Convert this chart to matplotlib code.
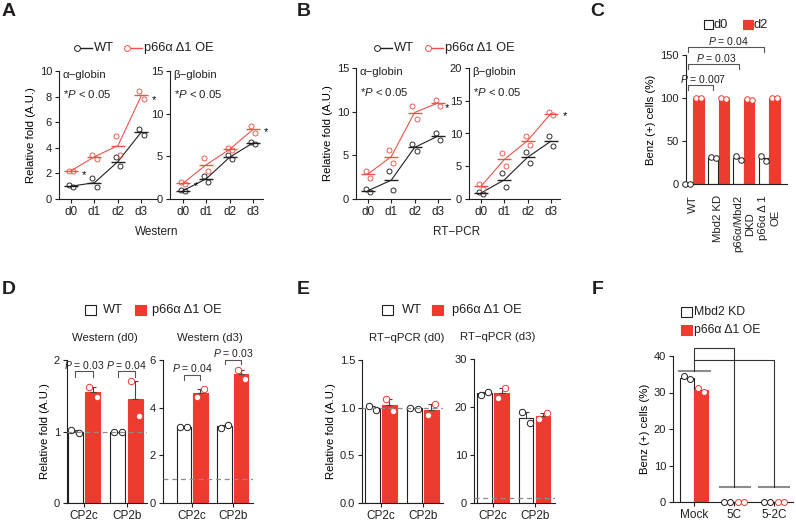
import matplotlib
matplotlib.use('Agg')
import matplotlib.pyplot as plt
import numpy as np
from matplotlib.lines import Line2D
from matplotlib.patches import Rectangle

plt.rcParams['font.family'] = ['Liberation Sans', 'DejaVu Sans']
plt.rcParams['mathtext.fontset'] = 'custom'
plt.rcParams['mathtext.rm'] = 'Liberation Sans'
plt.rcParams['mathtext.it'] = 'Liberation Sans:italic'
plt.rcParams['axes.linewidth'] = 0.8

# ---------------- data ----------------
days = ['d0', 'd1', 'd2', 'd3']
A_alpha_wt = [[1.1, 0.9], [1.65, 0.9], [3.25, 2.6], [5.5, 5.0]]
A_alpha_oe = [[2.2, 2.2], [3.45, 3.15], [4.9, 3.45], [8.4, 7.8]]
A_beta_wt = [[1.0, 0.95], [2.7, 2.05], [5.15, 4.65], [6.65, 6.5]]
A_beta_oe = [[1.95, 1.75], [4.75, 3.3], [5.95, 5.7], [8.6, 7.7]]
B_alpha_wt = [[1.15, 0.75], [3.25, 1.05], [6.35, 5.45], [7.6, 6.8]]
B_alpha_oe = [[3.25, 2.45], [5.6, 4.1], [10.6, 9.2], [11.3, 10.7]]
B_beta_wt = [[1.1, 0.75], [4.0, 1.85], [7.2, 5.55], [9.6, 8.05]]
B_beta_oe = [[2.3, 1.6], [7.0, 5.1], [9.55, 8.3], [13.3, 12.8]]

C_groups = ['WT', 'Mbd2 KD', 'p66α/Mbd2\nDKD', 'p66α Δ 1\nOE']
C_d0 = [[0, 0], [31, 30], [32, 28], [33, 27]]
C_d2 = [[100, 100], [100, 99], [99, 98], [100, 100]]
C_pvals = ['= 0.007', '= 0.03', '= 0.04']

DE_genes = ['CP2c', 'CP2b']
D_d0_wt = [[1.02, 0.98], [1.0, 1.0]]
D_d0_oe = [[1.62, 1.48], [1.70, 1.22]]
D_d3_wt = [[3.2, 3.2], [3.15, 3.28]]
D_d3_oe = [[4.45, 4.78], [5.58, 5.22]]
D_d0_p = ['= 0.03', '= 0.04']
D_d3_p = ['= 0.04', '= 0.03']
E_d0_wt = [[1.02, 0.98], [1.0, 0.99]]
E_d0_oe = [[1.09, 0.97], [0.92, 1.04]]
E_d3_wt = [[22.6, 23.2], [19.0, 16.6]]
E_d3_oe = [[21.8, 23.9], [17.4, 18.7]]

F_groups = ['Mock', '5C', '5-2C']
F_kd = [[34.5, 33.7], [0, 0], [0, 0]]
F_oe = [[31.3, 30.2], [0, 0], [0, 0]]

BLACK = '#231F20'
RED = '#EE3B2F'
LRED = '#F0524A'
GRAY = '#8C8C8C'

W, H = 796, 521
fig = plt.figure(figsize=(W / 100, H / 100), dpi=100)


def add_ax(l, t, r, b):
    ax = fig.add_axes([l / W, 1 - b / H, (r - l) / W, (b - t) / H])
    ax.spines[['top', 'right']].set_visible(False)
    for s in ['left', 'bottom']:
        ax.spines[s].set_color(BLACK)
    ax.tick_params(length=3, width=0.8, labelsize=8, pad=2, colors=BLACK)
    ax.patch.set_alpha(0)
    return ax


def ftext(x, y, s, **kw):
    kw.setdefault('color', BLACK)
    fig.text(x / W, 1 - y / H, s, **kw)


def fline(xs, ys, **kw):
    fig.add_artist(Line2D([x / W for x in xs], [1 - y / H for y in ys],
                          transform=fig.transFigure, **kw))


def frect(x, y, w, h, fc, ec):
    fig.add_artist(Rectangle((x / W, 1 - (y + h) / H), w / W, h / H,
                             transform=fig.transFigure, facecolor=fc,
                             edgecolor=ec, lw=0.8))


def line_panel(ax, wt, oe, ylim, yticks, xlim, title):
    x = np.arange(4)
    for data, col in [(wt, BLACK), (oe, LRED)]:
        arr = np.array(data)
        m = arr.mean(axis=1)
        ax.plot(x, m, color=col, lw=0.8, zorder=2)
        ax.plot(x, m, ls='none', marker='_', ms=10, mew=1.0, color=col, zorder=3)
        for j in range(arr.shape[1]):
            ax.plot(x + (j - 0.5) * 0.18, arr[:, j], ls='none', marker='o',
                    ms=3.6, mfc='none', mec=col, mew=0.65, zorder=4, clip_on=False)
    ax.set_xlim(*xlim)
    ax.set_ylim(*ylim)
    ax.set_yticks(yticks)
    ax.set_xticks(x)
    ax.set_xticklabels(days, fontsize=8.5)
    ax.text(0.04, 0.97, title, transform=ax.transAxes, fontsize=8.2, va='center', color=BLACK)
    ax.text(0.04, 0.82, r'*$P$ < 0.05', transform=ax.transAxes, fontsize=8.2, va='center', color=BLACK)


# ---------------- Panel A ----------------
axAa = add_ax(59, 71, 157, 199)
line_panel(axAa, A_alpha_wt, A_alpha_oe, (0, 10), [0, 2, 4, 6, 8, 10], (-0.51, 3.66), 'α−globin')
axAa.text(0.45, 1.9, '*', fontsize=8, va='center')
axAa.text(3.42, 7.7, '*', fontsize=8, va='center')
axAa.set_ylabel('Relative fold (A.U.)', fontsize=8.2, labelpad=3)
axAb = add_ax(170, 71, 263, 199)
line_panel(axAb, A_beta_wt, A_beta_oe, (0, 15), [0, 5, 10, 15], (-0.56, 3.43), 'β−globin')
axAb.text(0.47, 1.5, '*', fontsize=8, va='center')
axAb.text(3.48, 7.9, '*', fontsize=8, va='center')
ftext(157, 232, 'Western', fontsize=8.5, ha='center', va='center')

# ---------------- Panel B ----------------
axBa = add_ax(356, 68, 450, 199)
line_panel(axBa, B_alpha_wt, B_alpha_oe, (0, 15), [0, 5, 10, 15], (-0.51, 3.52), 'α−globin')
axBa.text(3.3, 10.4, '*', fontsize=8, va='center')
axBa.set_ylabel('Relative fold (A.U.)', fontsize=8.2, labelpad=3)
axBb = add_ax(469, 68, 560, 199)
line_panel(axBb, B_beta_wt, B_beta_oe, (0, 20), [0, 5, 10, 15, 20], (-0.52, 3.39), 'β−globin')
axBb.text(3.5, 12.7, '*', fontsize=8, va='center')
ftext(457, 232, 'RT−PCR', fontsize=8.5, ha='center', va='center')

# line legends A, B
for cx, col, txt in [(77, BLACK, 'WT'), (127, LRED, 'p66α Δ1 OE'),
                     (377, BLACK, 'WT'), (428, LRED, 'p66α Δ1 OE')]:
    fline([cx + 2, cx + 15], [48, 48], color=col, lw=1)
    fig.add_artist(Line2D([cx / W], [1 - 48 / H], marker='o', ms=4.2, mfc='white',
                          mec=col, mew=0.7, transform=fig.transFigure))
    ftext(cx + 17, 48, txt, fontsize=9.3, va='center')

# ---------------- Panel C ----------------
axC = add_ax(686, 55, 787, 184)
xc = np.arange(4)
offC, bwC = 0.209, 0.41
for data, fc, ec, sgn in [(C_d0, 'white', BLACK, -1), (C_d2, RED, RED, 1)]:
    arr = np.array(data, dtype=float)
    m = arr.mean(1)
    xs = xc + sgn * offC
    axC.bar(xs, m, width=bwC, color=fc, edgecolor=ec, lw=0.8, zorder=2)
    for j in range(2):
        axC.plot(xs + (j - 0.5) * 0.2, arr[:, j], ls='none', marker='o', ms=4,
                 mfc='white', mec=(BLACK if sgn < 0 else RED), mew=0.7, zorder=4, clip_on=False)
axC.set_xlim(-0.28, 3.7)
axC.set_ylim(0, 150)
axC.set_yticks([0, 50, 100, 150])
axC.set_xticks(xc)
axC.set_xticklabels(C_groups, rotation=90, fontsize=8.2, va='top', ha='center', multialignment='center')
axC.tick_params(axis='x', length=0, pad=8)
axC.set_ylabel('Benz (+) cells (%)', fontsize=8.2, labelpad=3)
for k, (yb, yl) in enumerate([(115, 122), (139.5, 146.5), (159, 166)]):
    x1, x2 = 0 - offC, (k + 1) - offC
    axC.plot([x1, x1, x2, x2], [yb - 6, yb, yb, yb - 6], color='#555555', lw=0.8, clip_on=False)
    axC.text((x1 + x2) / 2 + 0.1, yl, r'$P$ ' + C_pvals[k], fontsize=7.5, ha='center', va='center', color=BLACK)
frect(704, 20, 9, 9, 'white', BLACK)
ftext(714, 24.5, 'd0', fontsize=9.3, va='center')
frect(743, 20, 10, 9, RED, RED)
ftext(754, 24.5, 'd2', fontsize=9.3, va='center')


# ---------------- Panels D, E ----------------
def bar_panel(ax, wt, oe, ylim, yticks, xlim, ytl=None):
    x = np.arange(2)
    off, bw = 0.205, 0.35
    for data, fc, ec, sgn in [(wt, 'white', BLACK, -1), (oe, RED, RED, 1)]:
        arr = np.array(data, dtype=float)
        m = arr.mean(1)
        sem = np.abs(arr[:, 0] - arr[:, 1]) / 2
        xs = x + sgn * off
        ax.bar(xs, m, width=bw, color=fc, edgecolor=ec, lw=0.8, zorder=2)
        ax.errorbar(xs, m, yerr=[np.zeros_like(sem), sem], fmt='none', ecolor='#444444',
                    elinewidth=0.8, capsize=2, capthick=0.8, zorder=3)
        for j in range(2):
            ax.plot(xs + (j - 0.5) * 0.18, arr[:, j], ls='none', marker='o', ms=4.6,
                    mfc='white', mec=(BLACK if sgn < 0 else RED), mew=0.7, zorder=4, clip_on=False)
    ax.axhline(1, color=GRAY, ls=(0, (4, 3)), lw=0.9, zorder=5)
    ax.set_xlim(*xlim)
    ax.set_ylim(*ylim)
    ax.set_yticks(yticks)
    if ytl is not None:
        ax.set_yticklabels(ytl)
    ax.set_xticks(x)
    ax.set_xticklabels(DE_genes, fontsize=8.5)
    return off


def pbracket(ax, xc, y_top, y_leg, y_lab, txt, off):
    ax.plot([xc - off, xc - off, xc + off, xc + off], [y_leg, y_top, y_top, y_leg],
            color='#555555', lw=0.8, clip_on=False)
    ax.text(xc, y_lab, r'$P$ ' + txt, fontsize=7.5, ha='center', va='center', color=BLACK)


axDl = add_ax(67, 360, 147, 503)
off = bar_panel(axDl, D_d0_wt, D_d0_oe, (0, 2), [0, 1, 2], (-0.4, 1.48))
axDl.set_ylabel('Relative fold (A.U.)', fontsize=8.2, labelpad=3)
pbracket(axDl, 0, 1.85, 1.76, 1.93, D_d0_p[0], off)
pbracket(axDl, 1, 1.85, 1.76, 1.93, D_d0_p[1], off)
axDr = add_ax(163, 360, 253, 503)
off = bar_panel(axDr, D_d3_wt, D_d3_oe, (0, 6), [0, 2, 4, 6], (-0.71, 1.49))
pbracket(axDr, 0, 5.37, 5.16, 5.67, D_d3_p[0], off)
pbracket(axDr, 1, 6.0, 5.82, 6.3, D_d3_p[1], off)
ftext(105, 338, 'Western (d0)', fontsize=8.2, ha='center', va='center')
ftext(210, 338, 'Western (d3)', fontsize=8.2, ha='center', va='center')

axEl = add_ax(362, 360, 443, 503)
bar_panel(axEl, E_d0_wt, E_d0_oe, (0, 1.5), [0, 0.5, 1.0, 1.5], (-0.45, 1.48),
          ['0.0', '0.5', '1.0', '1.5'])
axEl.set_ylabel('Relative fold (A.U.)', fontsize=8.2, labelpad=3)
axEr = add_ax(474, 359, 555, 503)
bar_panel(axEr, E_d3_wt, E_d3_oe, (0, 30), [0, 10, 20, 30], (-0.46, 1.49))
ftext(407, 338, 'RT−qPCR (d0)', fontsize=8.2, ha='center', va='center')
ftext(498, 337, 'RT−qPCR (d3)', fontsize=8.2, ha='center', va='center')

# legends D, E
for sx, tx, fc, ec, txt in [(85, 103, 'white', BLACK, 'WT'), (135, 152, RED, RED, 'p66α Δ1 OE'),
                            (382, 402, 'white', BLACK, 'WT'), (432, 452, RED, RED, 'p66α Δ1 OE')]:
    frect(sx, 305, 11, 10, fc, ec)
    ftext(tx, 310, txt, fontsize=9.3, va='center')

# ---------------- Panel F ----------------
axF = add_ax(673, 356, 793, 502)
xf = np.arange(3)
offF, bwF = 0.18, 0.36
for data, fc, ec, sgn in [(F_kd, 'white', BLACK, -1), (F_oe, RED, RED, 1)]:
    arr = np.array(data, dtype=float)
    m = arr.mean(1)
    xs = xf + sgn * offF
    axF.bar(xs, m, width=bwF, color=fc, edgecolor=ec, lw=0.8, zorder=2)
    for j in range(2):
        axF.plot(xs + (j - 0.5) * 0.15, arr[:, j], ls='none', marker='o', ms=4.3,
                 mfc='white', mec=(BLACK if sgn < 0 else RED), mew=0.7, zorder=4, clip_on=False)
axF.set_xlim(-0.525, 2.475)
axF.set_ylim(0, 40)
axF.set_yticks([0, 10, 20, 30, 40])
axF.set_xticks(xf)
axF.set_xticklabels(F_groups, fontsize=8.5)
axF.set_ylabel('Benz (+) cells (%)', fontsize=8.2, labelpad=3)
axF.plot([-0.375, 0.4], [35.9, 35.9], color=GRAY, lw=1.5, clip_on=False, zorder=3)
axF.plot([0.65, 1.4], [4.2, 4.2], color=GRAY, lw=1.5, clip_on=False, zorder=3)
axF.plot([1.625, 2.375], [4.2, 4.2], color=GRAY, lw=1.5, clip_on=False, zorder=3)
axF.plot([0, 0, 1, 1], [35.9, 42.2, 42.2, 4.2], color='#333333', lw=0.8, clip_on=False, zorder=3)
axF.plot([0, 2, 2], [39.0, 39.0, 4.2], color='#333333', lw=0.8, clip_on=False, zorder=3)
frect(681, 307, 11, 10, 'white', BLACK)
ftext(694, 312, 'Mbd2 KD', fontsize=8.8, va='center')
frect(681, 325, 11, 10, RED, RED)
ftext(694, 330, 'p66α Δ1 OE', fontsize=8.8, va='center')

# panel letters
for lx, ly, lt in [(2, 12, 'A'), (297, 12, 'B'), (590, 12, 'C'),
                   (2, 289, 'D'), (297, 289, 'E'), (592, 289, 'F')]:
    ftext(lx, ly, lt, fontsize=14, fontweight='bold', va='center', ha='left')

fig.savefig('out.png', dpi=100)
